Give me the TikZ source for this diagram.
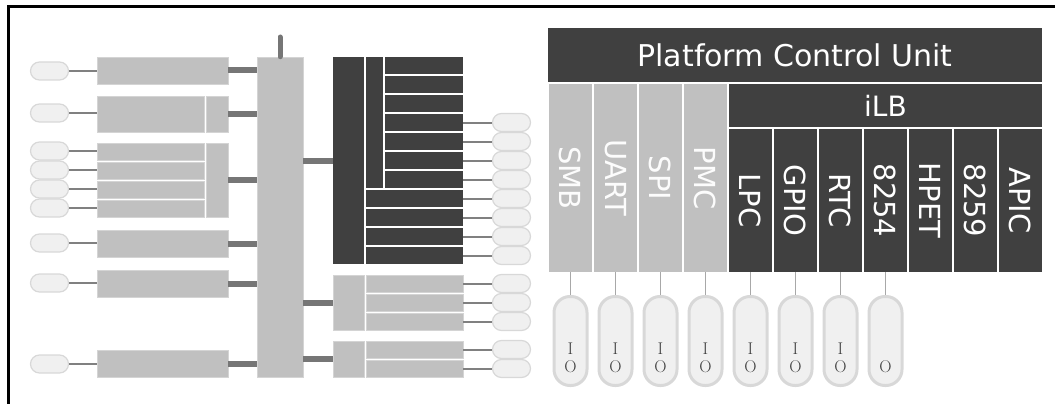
\documentclass[tikz,border=0pt]{standalone}
\usepackage{fontspec}
\newfontfamily\labelfont{DejaVu Sans}

\definecolor{darkbox}{HTML}{404040}
\definecolor{lightbox}{HTML}{C0C0C0}
\definecolor{lightedge}{HTML}{D4D4D4}
\definecolor{pillfill}{HTML}{F0F0F0}
\definecolor{pillline}{HTML}{D8D8D8}
\definecolor{wirecol}{HTML}{808080}
\definecolor{barcol}{HTML}{767676}
\definecolor{leadcol}{HTML}{A8A8A8}

\tikzset{
  pill/.style={draw=pillline, fill=pillfill, line width=1.2pt, rounded corners=9pt,
    minimum width=38pt, minimum height=18pt, inner sep=0pt},
  iopill/.style={draw=pillline, fill=pillfill, line width=3pt, rounded corners=16pt,
    minimum width=33pt, minimum height=89pt, inner sep=0pt},
  lbox/.style={fill=lightbox, draw=lightedge, line width=0.6pt, inner sep=0pt},
  dbox/.style={fill=darkbox, inner sep=0pt},
  wire/.style={draw=wirecol, line width=2pt},
  bar/.style={draw=barcol, line width=6pt},
  lead/.style={draw=leadcol, line width=1.5pt},
  colbox/.style={rotate=-90, minimum height=43pt, inner sep=0pt,
    font=\labelfont\fontsize{29}{32}\selectfont},
  iotext/.style={align=center, text=darkbox, font=\fontsize{17}{18}\selectfont},
}

\begin{document}
\begin{tikzpicture}[x=1pt,y=-1pt]
\useasboundingbox (0,0) rectangle (1055,404);

% Frame
\draw[line width=3pt] (1055,7) -- (8,7) -- (8,404);

% Left ovals
\foreach \y [count=\i] in {71,113,151,170,189,208,243,283,364}
  \node[pill] (lo\i) at (49.5,\y) {};

% Left boxes
\node[lbox, minimum width=131pt, minimum height=27pt] (b1) at (162.5,70.5) {};
\node[lbox, minimum width=107pt, minimum height=36pt] (b2) at (150.5,114) {};
\node[lbox, minimum width=22pt, minimum height=36pt] (b2r) at (217,114) {};
\foreach \y [count=\i] in {151.5,170.5,189.5,208.5}
  \node[lbox, minimum width=107pt, minimum height=17pt] (b3\i) at (150.5,\y) {};
\node[lbox, minimum width=22pt, minimum height=74pt] (b3r) at (217,180) {};
\node[lbox, minimum width=131pt, minimum height=27pt] (b4) at (162.5,243.5) {};
\node[lbox, minimum width=131pt, minimum height=27pt] (b5) at (162.5,283.5) {};
\node[lbox, minimum width=131pt, minimum height=27pt] (b6) at (162.5,363.5) {};

% Left wires
\foreach \o/\b in {lo1/b1,lo2/b2,lo3/b31,lo4/b32,lo5/b33,lo6/b34,lo7/b4,lo8/b5,lo9/b6}
  \draw[wire] (\o.east) -- (\o.east -| \b.west);

% Bus
\node[lbox, minimum width=46pt, minimum height=320pt] (bus) at (280,217) {};
\coordinate (stub) at (280,37);
\draw[bar, line width=5pt, line cap=round] (bus.north) -- (stub);

% Bars into the bus
\foreach \b in {b1,b2r,b3r,b4,b5,b6}
  \draw[bar] (\b.east) -- (\b.east -| bus.west);

% Dark block
\node[dbox, minimum width=31pt, minimum height=207pt] (m0) at (348.5,160.5) {};
\node[dbox, minimum width=17pt, minimum height=131pt] (m1) at (374.5,122.5) {};
\foreach \k in {0,...,6}
  \node[dbox, minimum width=78pt, minimum height=17pt] (mr\k) at (424,{65.5+19*\k}) {};
\foreach \k in {0,...,3}
  \node[dbox, minimum width=97pt, minimum height=17pt] (ms\k) at (414.5,{198.5+19*\k}) {};

% Light blocks
\node[lbox, minimum width=31pt, minimum height=55pt] (n0) at (348.5,302.5) {};
\foreach \k in {0,...,2}
  \node[lbox, minimum width=97pt, minimum height=17pt] (nr\k) at (414.5,{283.5+19*\k}) {};
\node[lbox, minimum width=31pt, minimum height=36pt] (p0) at (348.5,359) {};
\foreach \k in {0,1}
  \node[lbox, minimum width=97pt, minimum height=17pt] (pr\k) at (414.5,{349.5+19*\k}) {};

% Bars out of the bus
\foreach \b in {m0,n0,p0}
  \draw[bar] (bus.east |- \b.west) -- (\b.west);

% Right ovals
\foreach \k in {0,...,7}
  \node[pill] (ro\k) at (511.5,{122.5+19*\k}) {};
\foreach \k in {0,...,2}
  \node[pill] (no\k) at (511.5,{283.5+19*\k}) {};
\foreach \k in {0,1}
  \node[pill] (po\k) at (511.5,{349.5+19*\k}) {};

% Right wires
\foreach \r/\o in {mr3/ro0,mr4/ro1,mr5/ro2,mr6/ro3,ms0/ro4,ms1/ro5,ms2/ro6,ms3/ro7,
                   nr0/no0,nr1/no1,nr2/no2,pr0/po0,pr1/po1}
  \draw[wire] (\r.east) -- (\r.east -| \o.west);

% Platform Control Unit
\node[dbox, minimum width=494pt, minimum height=54pt, text=white,
  font=\labelfont\fontsize{30}{32}\selectfont] (pcu) at (795,55) {Platform Control Unit};
\node[dbox, minimum width=313pt, minimum height=43pt, text=white,
  font=\labelfont\fontsize{28}{30}\selectfont] (ilb) at (885.5,105.5) {iLB};

\foreach \name [count=\i] in {SMB,UART,SPI,PMC}
  \node[colbox, fill=lightbox, text=white!96!lightbox, minimum width=188pt] (c\i) at ({525.5+45*\i},178) {\name};
\foreach \name [count=\i from 5] in {LPC,GPIO,RTC,8254,HPET,8259,APIC}
  \node[colbox, fill=darkbox, text=white, minimum width=143pt] (c\i) at ({525.5+45*\i},200.5) {\name};

% IO pins
\foreach \i in {1,...,8}
  \node[iopill] (io\i) at ({525.5+45*\i},341) {};
\foreach \i in {1,...,8}
  \draw[lead] (c\i.east) -- (io\i.north);
\foreach \i in {1,...,7}
  \node[iotext] (iot\i) at ({525.5+45*\i},358) {I\\O};
\node[iotext] (iot8) at (885.5,358) {\phantom{I}\\O};

\end{tikzpicture}
\end{document}
